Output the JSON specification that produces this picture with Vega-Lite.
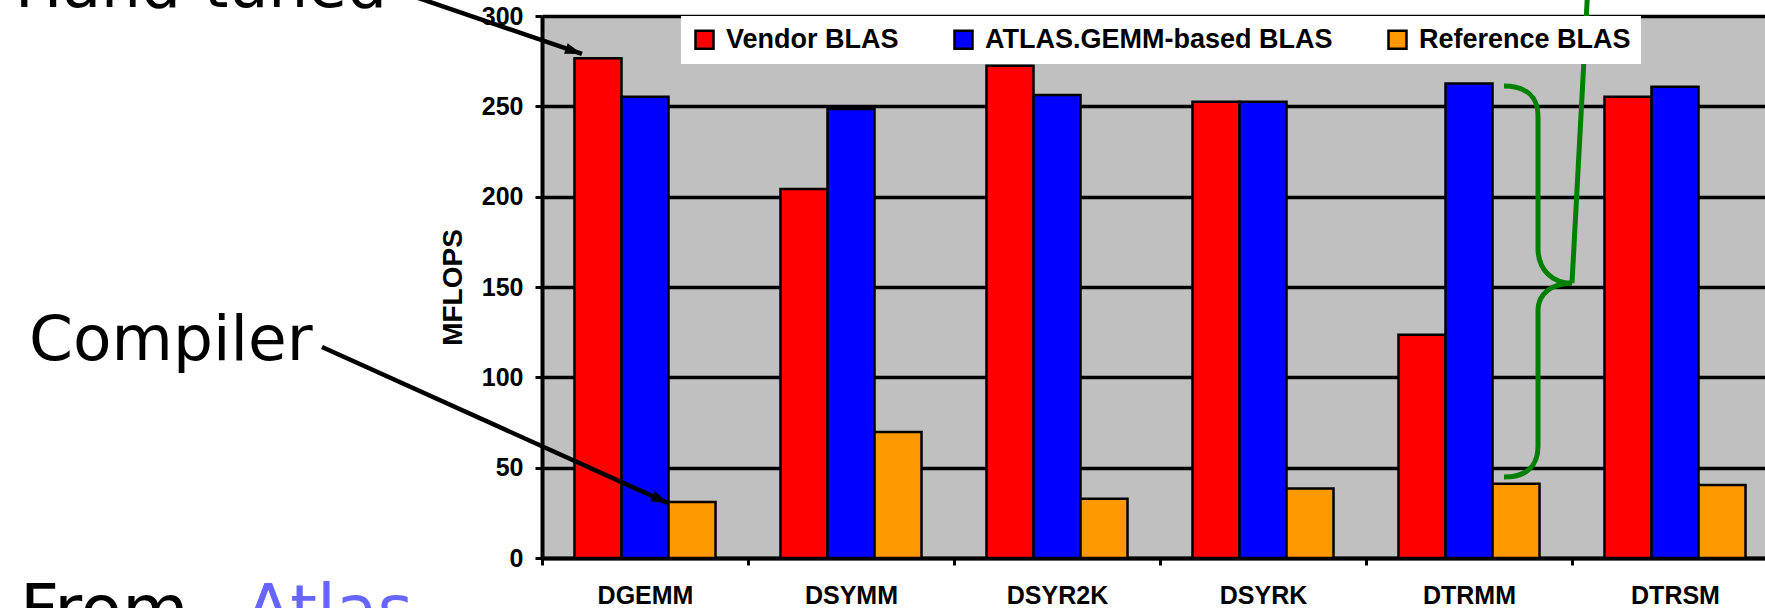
{
  "$schema": "https://vega.github.io/schema/vega-lite/v6.json",
  "width": 1223,
  "height": 542,
  "autosize": {"type": "none"},
  "padding": {"left": 542, "top": 16, "right": 0, "bottom": 50},
  "background": "white",
  "config": {
    "view": {"fill": "#c0c0c0", "stroke": null},
    "font": "Liberation Sans"
  },
  "datasets": {
    "blas": [
      {"routine": "DGEMM", "impl": "Vendor BLAS", "mflops": 276.6},
      {"routine": "DGEMM", "impl": "ATLAS.GEMM-based BLAS", "mflops": 255.3},
      {"routine": "DGEMM", "impl": "Reference BLAS", "mflops": 31.0},
      {"routine": "DSYMM", "impl": "Vendor BLAS", "mflops": 204.2},
      {"routine": "DSYMM", "impl": "ATLAS.GEMM-based BLAS", "mflops": 248.5},
      {"routine": "DSYMM", "impl": "Reference BLAS", "mflops": 69.7},
      {"routine": "DSYR2K", "impl": "Vendor BLAS", "mflops": 272.5},
      {"routine": "DSYR2K", "impl": "ATLAS.GEMM-based BLAS", "mflops": 256.3},
      {"routine": "DSYR2K", "impl": "Reference BLAS", "mflops": 32.8},
      {"routine": "DSYRK", "impl": "Vendor BLAS", "mflops": 252.6},
      {"routine": "DSYRK", "impl": "ATLAS.GEMM-based BLAS", "mflops": 252.6},
      {"routine": "DSYRK", "impl": "Reference BLAS", "mflops": 38.4},
      {"routine": "DTRMM", "impl": "Vendor BLAS", "mflops": 123.6},
      {"routine": "DTRMM", "impl": "ATLAS.GEMM-based BLAS", "mflops": 262.7},
      {"routine": "DTRMM", "impl": "Reference BLAS", "mflops": 41.1},
      {"routine": "DTRSM", "impl": "Vendor BLAS", "mflops": 255.3},
      {"routine": "DTRSM", "impl": "ATLAS.GEMM-based BLAS", "mflops": 260.9},
      {"routine": "DTRSM", "impl": "Reference BLAS", "mflops": 40.4}
    ],
    "labels": [
      {"label": "Hand-tuned", "u": -2.558, "v": 305.0},
      {"label": "Compiler", "u": -2.49, "v": 109.6}
    ],
    "footer": [
      {"label": "From", "u": -2.534, "v": -41.3},
      {"label": "Atlas", "u": -1.442, "v": -41.3}
    ],
    "arrows": [
      {"arrow": "hand", "u": -0.786, "v": 317.2},
      {"arrow": "hand", "u": 0.194, "v": 279.0},
      {"arrow": "compiler", "u": -1.068, "v": 116.8},
      {"arrow": "compiler", "u": 0.612, "v": 30.4}
    ],
    "tips": [
      {"arrow": "hand", "u": 0.194, "v": 279.0},
      {"arrow": "compiler", "u": 0.612, "v": 30.4}
    ],
    "brace": [
      {"u": 4.835, "v": 153.0}
    ],
    "pointer": [
      {"u": 5.0, "v": 152.2},
      {"u": 5.075, "v": 311.6}
    ]
  },
  "layer": [
    {
      "data": {"name": "blas"},
      "mark": {"type": "bar", "stroke": "black", "strokeWidth": 2.5, "opacity": 1},
      "encoding": {
        "x": {
          "field": "routine", "type": "nominal",
          "sort": ["DGEMM", "DSYMM", "DSYR2K", "DSYRK", "DTRMM", "DTRSM"],
          "scale": {"range": [0, 1236], "paddingInner": 0, "paddingOuter": 0},
          "axis": {
            "title": null, "labelAngle": 0,
            "labelFont": "Liberation Sans", "labelFontSize": 25, "labelFontWeight": "bold",
            "labelColor": "black", "labelPadding": 18,
            "tickBand": "extent", "tickColor": "black", "tickWidth": 3, "tickSize": 7,
            "domainColor": "black", "domainWidth": 4, "grid": false
          }
        },
        "xOffset": {
          "field": "impl", "type": "nominal",
          "sort": ["Vendor BLAS", "ATLAS.GEMM-based BLAS", "Reference BLAS"],
          "scale": {"paddingInner": 0, "paddingOuter": 0.691}
        },
        "y": {
          "field": "mflops", "type": "quantitative",
          "scale": {"domain": [0, 300], "nice": false},
          "axis": {
            "title": "MFLOPS", "values": [0, 50, 100, 150, 200, 250, 300],
            "labelFont": "Liberation Sans", "labelFontSize": 25, "labelFontWeight": "bold",
            "labelColor": "black", "labelPadding": 12,
            "tickColor": "black", "tickWidth": 3, "tickSize": 7,
            "domainColor": "black", "domainWidth": 4,
            "grid": true, "gridColor": "black", "gridWidth": 3.5,
            "titleFont": "Liberation Sans", "titleFontSize": 28, "titleFontWeight": "bold",
            "titleColor": "black", "titlePadding": 14
          }
        },
        "color": {
          "field": "impl", "type": "nominal",
          "scale": {
            "domain": ["Vendor BLAS", "ATLAS.GEMM-based BLAS", "Reference BLAS"],
            "range": ["#ff0000", "#0000ff", "#ff9900"]
          },
          "legend": {
            "orient": "none", "legendX": 139, "legendY": 0, "direction": "horizontal",
            "title": null, "fillColor": "white", "padding": 10,
            "symbolType": "square", "symbolSize": 324,
            "symbolStrokeColor": "black", "symbolStrokeWidth": 2.5, "symbolOpacity": 1,
            "labelFont": "Liberation Sans", "labelFontSize": 27, "labelFontWeight": "bold",
            "labelColor": "black", "labelOffset": 8, "labelLimit": 600, "columnPadding": 50
          }
        }
      }
    },
    {
      "data": {"name": "labels"},
      "mark": {"type": "text", "font": "DejaVu Sans", "fontSize": 63, "align": "left", "baseline": "alphabetic", "color": "black"},
      "encoding": {
        "x": {"field": "u", "type": "quantitative", "scale": {"domain": [0, 6], "range": [0, 1236], "nice": false, "zero": false}, "axis": null},
        "y": {"field": "v", "type": "quantitative", "scale": {"domain": [0, 300], "nice": false, "zero": false}, "axis": null},
        "text": {"field": "label"}
      }
    },
    {
      "data": {"name": "footer"},
      "mark": {"type": "text", "font": "DejaVu Sans", "fontSize": 68, "align": "left", "baseline": "alphabetic"},
      "encoding": {
        "x": {"field": "u", "type": "quantitative", "scale": {"domain": [0, 6], "range": [0, 1236], "nice": false, "zero": false}, "axis": null},
        "y": {"field": "v", "type": "quantitative", "scale": {"domain": [0, 300], "nice": false, "zero": false}, "axis": null},
        "text": {"field": "label"},
        "color": {"condition": {"test": "datum.label === 'Atlas'", "value": "#6666ff"}, "value": "black"}
      }
    },
    {
      "data": {"name": "arrows"},
      "mark": {"type": "line", "strokeWidth": 4.5, "color": "black"},
      "encoding": {
        "x": {"field": "u", "type": "quantitative", "scale": {"domain": [0, 6], "range": [0, 1236], "nice": false, "zero": false}, "axis": null},
        "y": {"field": "v", "type": "quantitative", "scale": {"domain": [0, 300], "nice": false, "zero": false}, "axis": null},
        "detail": {"field": "arrow"}
      }
    },
    {
      "data": {"name": "tips"},
      "mark": {"type": "point", "shape": "M0,0L-2,-0.65L-2,0.65Z", "filled": true, "color": "black", "size": 289, "opacity": 1},
      "encoding": {
        "x": {"field": "u", "type": "quantitative", "scale": {"domain": [0, 6], "range": [0, 1236], "nice": false, "zero": false}, "axis": null},
        "y": {"field": "v", "type": "quantitative", "scale": {"domain": [0, 300], "nice": false, "zero": false}, "axis": null},
        "angle": {"condition": {"test": "datum.arrow === 'hand'", "value": 18.86}, "value": 24.27}
      }
    },
    {
      "data": {"name": "brace"},
      "mark": {
        "type": "point",
        "shape": "M-0.174,-1C-0.061,-1,0,-0.946,0,-0.847L0,-0.171C0,-0.061,0.072,0.008,0.174,0.008C0.072,0.008,0,0.061,0,0.146L0,0.841C0,0.946,-0.061,1,-0.174,1",
        "filled": false, "stroke": "#008000", "strokeWidth": 5, "size": 152881, "opacity": 1
      },
      "encoding": {
        "x": {"field": "u", "type": "quantitative", "scale": {"domain": [0, 6], "range": [0, 1236], "nice": false, "zero": false}, "axis": null},
        "y": {"field": "v", "type": "quantitative", "scale": {"domain": [0, 300], "nice": false, "zero": false}, "axis": null}
      }
    },
    {
      "data": {"name": "pointer"},
      "mark": {"type": "line", "strokeWidth": 5, "color": "#008000"},
      "encoding": {
        "x": {"field": "u", "type": "quantitative", "scale": {"domain": [0, 6], "range": [0, 1236], "nice": false, "zero": false}, "axis": null},
        "y": {"field": "v", "type": "quantitative", "scale": {"domain": [0, 300], "nice": false, "zero": false}, "axis": null}
      }
    }
  ],
  "resolve": {"scale": {"x": "independent", "y": "independent"}}
}
